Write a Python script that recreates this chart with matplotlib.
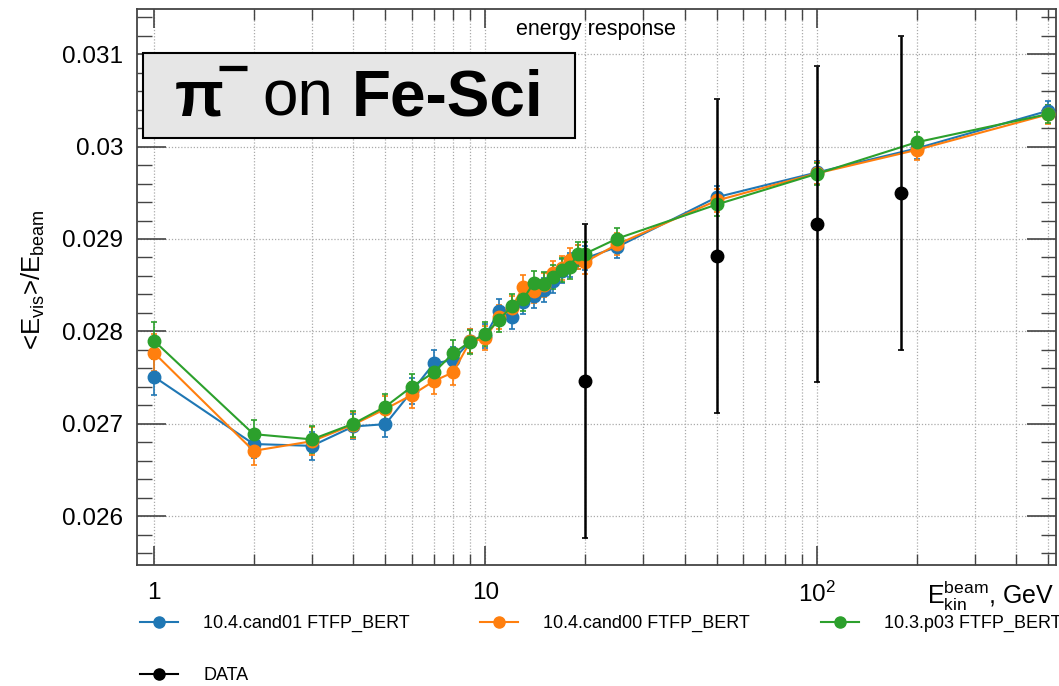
import matplotlib
matplotlib.use("Agg")
import matplotlib.pyplot as plt
from matplotlib.ticker import FixedLocator, FixedFormatter, NullFormatter
from matplotlib.lines import Line2D
from matplotlib.patches import Rectangle

plt.rcParams['font.family'] = ['Liberation Sans', 'DejaVu Sans']
plt.rcParams['mathtext.fontset'] = 'custom'
plt.rcParams['mathtext.rm'] = 'Liberation Sans'
plt.rcParams['mathtext.it'] = 'Liberation Sans:italic'
plt.rcParams['mathtext.bf'] = 'Liberation Sans:bold'

# ---------------- data ----------------
energies_mc = [1, 2, 3, 4, 5, 6, 7, 8, 9, 10, 11, 12, 13, 14, 15, 16, 17, 18, 19, 20, 25, 50, 100, 200, 500]
cand01 = [0.02751, 0.02678, 0.02676, 0.02697, 0.026995, 0.02735, 0.027653, 0.02769, 0.02789, 0.02795,
          0.02822, 0.028157, 0.02832, 0.02838, 0.02845, 0.02854, 0.02865, 0.02872, 0.02880, 0.02879,
          0.028913, 0.029453, 0.02972, 0.02998, 0.030389]
cand00 = [0.02777, 0.026706, 0.02681, 0.02699, 0.02716, 0.02731, 0.027462, 0.027556, 0.02789, 0.027924,
          0.02815, 0.02825, 0.02848, 0.028437, 0.02850, 0.02863, 0.02869, 0.028777, 0.02880, 0.02875,
          0.028942, 0.029417, 0.02971, 0.029964, 0.03035]
p03 = [0.02790, 0.026887, 0.02683, 0.02700, 0.027185, 0.02740, 0.027556, 0.027761, 0.027887, 0.02797,
       0.02812, 0.028272, 0.028345, 0.028524, 0.02851, 0.028589, 0.02866, 0.028697, 0.028841, 0.02884,
       0.029004, 0.029374, 0.029705, 0.030047, 0.030353]
mc_err = [0.0002, 0.00015, 0.00015, 0.00014, 0.00014, 0.00014, 0.00014, 0.00014, 0.00013, 0.00013,
          0.00013, 0.00013, 0.00013, 0.00013, 0.00013, 0.00013, 0.00013, 0.00013, 0.00013, 0.00013,
          0.00012, 0.00012, 0.00012, 0.00011, 0.0001]
data_e = [20, 50, 100, 180]
data_v = [0.027465, 0.02882, 0.029158, 0.0295]
data_err = [0.0017, 0.0017, 0.00171, 0.0017]

series_labels = ["10.4.cand01 FTFP_BERT", "10.4.cand00 FTFP_BERT", "10.3.p03 FTFP_BERT", "DATA"]
colors = ["#1f77b4", "#ff7f0e", "#2ca02c", "black"]
y_ticks = [0.026, 0.027, 0.028, 0.029, 0.030, 0.031]
y_ticklabels = ["0.026", "0.027", "0.028", "0.029", "0.03", "0.031"]
x_ticks = [1, 10, 100]
x_ticklabels = ["1", "10", r"$10^{2}$"]

W, H = 1059, 686
fig = plt.figure(figsize=(W / 100, H / 100), dpi=100)
ax = fig.add_axes([137 / W, 1 - 565 / H, (1056 - 137) / W, (565 - 9) / H])

ax.set_xscale('log')
ax.set_xlim(0.89, 527)
ax.set_ylim(0.02547, 0.03149)

# grid
minor_x = [v * d for d in (1, 10, 100) for v in range(2, 10)]
minor_x = [m for m in minor_x if m < 527]
for xv in x_ticks + minor_x:
    ax.axvline(xv, color='#aaaaaa', lw=0.9, ls=(0, (1, 1.5)), zorder=0)
for yv in y_ticks:
    ax.axhline(yv, color='#aaaaaa', lw=0.9, ls=(0, (1, 1.5)), zorder=0)

# MC series
for vals, col in zip([cand01, cand00, p03], colors[:3]):
    ax.errorbar(energies_mc, vals, yerr=mc_err, color=col, lw=1.5, marker='o', ms=9,
                capsize=2, capthick=1.2, elinewidth=1.2, zorder=3)
# Data
ax.errorbar(data_e, data_v, yerr=data_err, color='black', lw=0, marker='o', ms=9,
            capsize=2, capthick=1.2, elinewidth=1.8, ls='none', zorder=5)

# ticks
ax.xaxis.set_major_locator(FixedLocator(x_ticks))
ax.xaxis.set_major_formatter(FixedFormatter(x_ticklabels))
ax.xaxis.set_minor_locator(FixedLocator(minor_x))
ax.xaxis.set_minor_formatter(NullFormatter())
ax.yaxis.set_major_locator(FixedLocator(y_ticks))
ax.yaxis.set_major_formatter(FixedFormatter(y_ticklabels))
ax.yaxis.set_minor_locator(FixedLocator([0.0256 + 0.0002 * i for i in range(30)]))
ax.tick_params(axis='both', which='both', direction='in', top=True, right=True,
               color='#444444', labelsize=17.5)
ax.tick_params(axis='y', which='major', length=21, width=1.2, pad=10)
ax.tick_params(axis='y', which='minor', length=10.5, width=1.0)
ax.tick_params(axis='x', which='major', length=14, width=1.2, pad=12)
ax.tick_params(axis='x', which='minor', length=8, width=1.0)
for s in ax.spines.values():
    s.set_color('#444444')
    s.set_linewidth(1.3)

ax.set_ylabel(r"<E$_{\mathrm{vis}}$>/E$_{\mathrm{beam}}$", fontsize=18.5)
ax.yaxis.set_label_coords(-0.098, 0.513)
ax.set_xlabel(r"E$^{\mathrm{beam}}_{\mathrm{kin}}$, GeV", fontsize=18, ha='right', va='center')
ax.xaxis.set_label_coords(0.998, -0.0565)

# energy response text
fig.text(596 / W, 1 - 30 / H, "energy response", ha='center', va='center', fontsize=15.5)

# box with particle on target
fig.add_artist(Rectangle((143 / W, 1 - 138 / H), (575 - 143) / W, (138 - 53) / H,
                         transform=fig.transFigure, facecolor='#e6e6e6',
                         edgecolor='black', lw=1.5, zorder=10))
ty = 1 - 98 / H
fig.text(175 / W, ty, "π", fontsize=46, fontweight='bold', ha='left', va='center', zorder=11)
fig.add_artist(Line2D([219 / W, 247 / W], [1 - 68 / H, 1 - 68 / H], transform=fig.transFigure,
                      color='black', lw=3.8, solid_capstyle='butt', zorder=11))
fig.text(262 / W, ty, "on", fontsize=46, ha='left', va='center', zorder=11)
fig.text(352 / W, ty, "Fe-Sci", fontsize=46, fontweight='bold', ha='left', va='center', zorder=11)

# legend
handles = [Line2D([0], [0], color=c, lw=1.5, marker='o', ms=8) for c in colors]
order = [0, 3, 1, 2]
fig.legend([handles[i] for i in order], [series_labels[i] for i in order],
           ncol=3, loc='upper left', bbox_to_anchor=(140 / W, 1 - 615 / H),
           frameon=False, fontsize=13, handlelength=2.1, handletextpad=1.4,
           columnspacing=3.9, labelspacing=1.95, borderpad=0, borderaxespad=0)

fig.savefig("out.png", dpi=100)
